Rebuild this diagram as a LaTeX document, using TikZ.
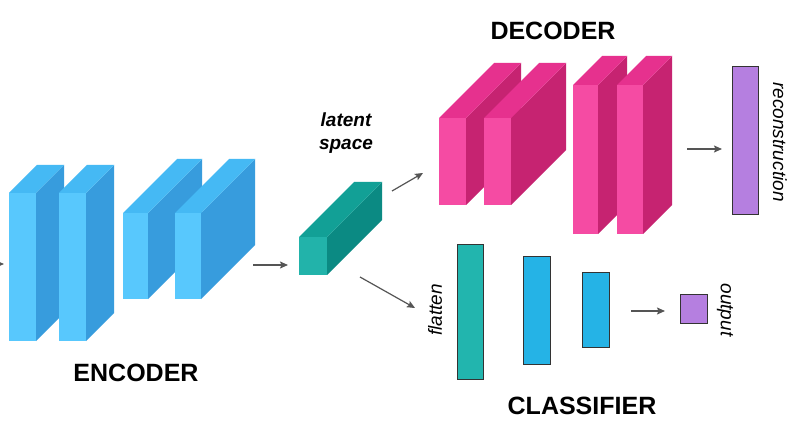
\documentclass[tikz,border=0pt]{standalone}
\usepackage{fontspec}
\setmainfont{Liberation Sans}
\usetikzlibrary{arrows.meta}
\definecolor{encfront}{HTML}{58C8FD}
\definecolor{enctop}{HTML}{45B9F4}
\definecolor{encside}{HTML}{379CDD}
\definecolor{latfront}{HTML}{22B3AA}
\definecolor{lattop}{HTML}{12A096}
\definecolor{latside}{HTML}{0B8A83}
\definecolor{decfront}{HTML}{F54BA3}
\definecolor{dectop}{HTML}{E6318E}
\definecolor{decside}{HTML}{C62371}
\definecolor{tealbar}{HTML}{22B5AE}
\definecolor{bluebar}{HTML}{25B3E6}
\definecolor{purplebar}{HTML}{B57FE0}
\definecolor{arrowgray}{HTML}{555555}
\newcommand\cuboid[7]{% name x y w h d prefix
  \fill[#7side] (#2+#4,#3) -- ++(#6,-#6) -- ++(0,#5) -- ++(-#6,#6) -- cycle;
  \fill[#7top] (#2,#3) -- ++(#6,-#6) -- ++(#4,0) -- ++(-#6,#6) -- cycle;
  \fill[#7front] (#2,#3) rectangle ++(#4,#5);
  \coordinate (#1) at (#2+#4/2,#3+#5/2);
}
\begin{document}
\begin{tikzpicture}[x=1pt,y=-1pt,
  conn/.style={draw=arrowgray, line width=1.2pt, -{Stealth[length=8pt,width=7pt,inset=1.5pt]}},
  bar/.style={draw=black!80, line width=1pt, anchor=north west, inner sep=0pt, outer sep=0pt},
  title/.style={font=\bfseries\fontsize{25}{30}\selectfont, anchor=base, inner sep=0pt},
  lbl/.style={font=\itshape\fontsize{19}{23}\selectfont, inner sep=0pt},
  lat/.style={font=\bfseries\itshape\fontsize{19}{23}\selectfont, anchor=base, inner sep=0pt}]
\useasboundingbox (0,0) rectangle (800,430);
\fill[white] (0,0) rectangle (800,430);
% encoder
\cuboid{e1}{9}{193}{27}{148}{28}{enc}
\cuboid{e2}{59}{193}{27}{148}{28}{enc}
\cuboid{e3}{123}{213}{25}{86}{54}{enc}
\cuboid{e4}{175}{213}{26}{86}{54}{enc}
% latent
\cuboid{lt}{299}{237}{28}{38}{55}{lat}
% decoder
\cuboid{d1}{439}{118}{27}{87}{55}{dec}
\cuboid{d2}{484}{118}{27}{87}{55}{dec}
\cuboid{d3}{573}{85}{25}{149}{29}{dec}
\cuboid{d4}{617}{85}{26}{149}{29}{dec}
% classifier bars
\node[bar, fill=tealbar, minimum width=26pt, minimum height=134pt] (fl) at (457,245) {};
\node[bar, fill=bluebar, minimum width=27pt, minimum height=107pt] (c2) at (523,257) {};
\node[bar, fill=bluebar, minimum width=27pt, minimum height=74pt] (c3) at (582,273) {};
\node[bar, fill=purplebar, minimum width=27pt, minimum height=29pt] (out) at (680,294) {};
\node[bar, fill=purplebar, minimum width=26pt, minimum height=148pt] (rec) at (732,67) {};
% connector coordinates
\coordinate (inS) at (-10,264); \coordinate (inE) at (4,264);
\coordinate (elS) at (253,265); \coordinate (elE) at (288,265);
\coordinate (ldS) at (392,191); \coordinate (ldE) at (423,173);
\coordinate (lcS) at (360,277); \coordinate (lcE) at (415,308);
\coordinate (drS) at (687,149); \coordinate (drE) at (722,149);
\coordinate (coS) at (631,311); \coordinate (coE) at (665,311);
\draw[conn] (inS) -- (inE);
\draw[conn] (elS) -- (elE);
\draw[conn] (ldS) -- (ldE);
\draw[conn] (lcS) -- (lcE);
\draw[conn] (drS) -- (drE);
\draw[conn] (coS) -- (coE);
% titles
\node[title] (tenc) at (136,381) {ENCODER};
\node[title] (tdec) at (553,40) {DECODER};
\node[title] (tcls) at (582,414) {CLASSIFIER};
% labels
\node[lat] (l1) at (346,127) {latent};
\node[lat] (l2) at (346,150) {space};
\node[lbl, rotate=-90] (trec) at (780,142) {reconstruction};
\node[lbl, rotate=-90] (tout) at (725,310) {output};
\node[lbl, rotate=90] (tfl) at (435,310) {flatten};
\end{tikzpicture}
\end{document}
